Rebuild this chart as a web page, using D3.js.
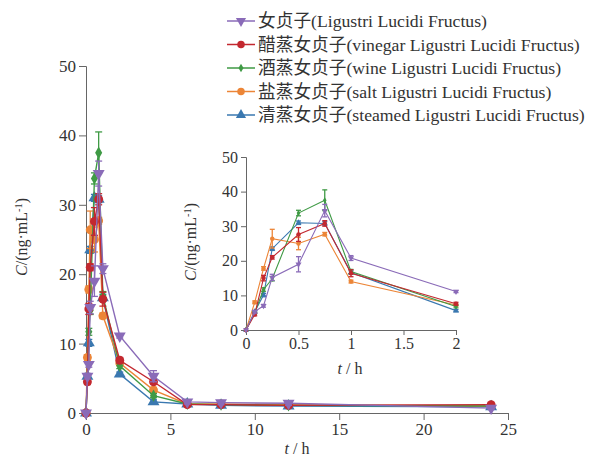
<!DOCTYPE html>
<html>
<head>
<meta charset="utf-8">
<script src="https://cdn.jsdelivr.net/npm/d3@7"></script>
<style>
  body { margin: 0; background: #fff; }
  text { font-family: "Liberation Serif", "Noto Sans CJK SC", serif; fill: #333; }
</style>
</head>
<body>
<svg id="chart" width="598" height="458"></svg>
<script>
"use strict";

// sampling times (h)
const times = [0, 0.083, 0.167, 0.25, 0.5, 0.75, 1, 2, 4, 6, 8, 12, 24];

const seriesNames = [
  "女贞子(Ligustri Lucidi Fructus)",
  "醋蒸女贞子(vinegar Ligustri Lucidi Fructus)",
  "酒蒸女贞子(wine Ligustri Lucidi Fructus)",
  "盐蒸女贞子(salt Ligustri Lucidi Fructus)",
  "清蒸女贞子(steamed Ligustri Lucidi Fructus)"
];
const seriesColors = ["#8a6bb8", "#c3282f", "#3f9a45", "#ec8537", "#3a78b0"];
const seriesMarkers = ["tri-down", "circle", "diamond", "circle", "tri-up"];

// mean concentration (ng/mL)
const rawMean    = [0, 5.3, 7.0, 15.2, 19.0, 34.5, 20.8, 11.1, 5.3, 1.6, 1.5, 1.4, 0.7];
const vinegarMean = [0, 4.5, 15.0, 21.0, 27.6, 30.8, 16.4, 7.6, 4.5, 1.2, 1.2, 1.1, 1.2];
const wineMean   = [0, 5.0, 11.7, 14.8, 33.8, 37.5, 16.9, 6.8, 2.5, 1.3, 1.2, 1.1, 1.0];
const saltMean   = [0, 8.0, 17.8, 26.4, 25.0, 27.7, 14.0, 7.2, 3.3, 1.3, 1.3, 1.2, 1.0];
const steamMean  = [0, 5.3, 10.1, 23.5, 31.0, 30.8, 16.6, 5.6, 1.6, 1.3, 1.1, 1.0, 0.9];

// standard deviations
const rawSd     = [0, 0.4, 0.4, 0.9, 2.2, 1.8, 0.7, 0.3, 0.8, 0.3, 0.3, 0.3, 0.2];
const vinegarSd = [0, 0.4, 0.8, 0.5, 2.0, 0.8, 1.0, 0.4, 0.3, 0.2, 0.2, 0.2, 0.2];
const wineSd    = [0, 0.3, 0.5, 0.6, 0.8, 3.0, 0.6, 0.4, 0.3, 0.2, 0.2, 0.2, 0.2];
const saltSd    = [0, 0.4, 0.5, 2.7, 1.8, 0.5, 0.4, 0.3, 0.4, 0.2, 0.2, 0.2, 0.2];
const steamSd   = [0, 0.3, 0.5, 0.5, 0.5, 0.5, 0.5, 0.3, 0.3, 0.2, 0.2, 0.2, 0.2];

const mainXTicks = [0, 5, 10, 15, 20, 25];
const insetXTicks = [0, 0.5, 1, 1.5, 2];
const yTicks = [0, 10, 20, 30, 40, 50];

const means = [rawMean, vinegarMean, wineMean, saltMean, steamMean];
const sds = [rawSd, vinegarSd, wineSd, saltSd, steamSd];

const series = seriesNames.map(function(name, i) {
  return {
    name: name,
    color: seriesColors[i],
    marker: seriesMarkers[i],
    points: times.map(function(t, j) { return { t: t, c: means[i][j], sd: sds[i][j] }; })
  };
});

const svg = d3.select("#chart");
const axisColor = "#666";

function markerPath(type, size) {
  const sym = {
    "circle": d3.symbolCircle,
    "diamond": d3.symbolDiamond,
    "tri-up": d3.symbolTriangle,
    "tri-down": d3.symbolTriangle
  }[type];
  return d3.symbol().type(sym).size(size)();
}

function drawPanel(opts) {
  const x = d3.scaleLinear().domain(opts.xDomain).range(opts.xRange);
  const y = d3.scaleLinear().domain([0, 50]).range(opts.yRange);
  const g = svg.append("g");

  const xAxis = g.append("g")
    .attr("transform", "translate(0," + opts.yRange[0] + ")")
    .call(d3.axisBottom(x).tickValues(opts.xTicks).tickSize(opts.tick).tickPadding(3)
      .tickFormat(d3.format("")));
  const yAxis = g.append("g")
    .attr("transform", "translate(" + opts.xRange[0] + ",0)")
    .call(d3.axisLeft(y).tickValues(yTicks).tickSize(opts.tick).tickPadding(3));
  [xAxis, yAxis].forEach(function(a) {
    a.select(".domain").attr("stroke", axisColor);
    a.selectAll(".tick line").attr("stroke", axisColor);
    a.selectAll(".tick text").style("font-size", opts.font + "px").attr("fill", "#333");
  });

  const line = d3.line().x(function(d) { return x(d.t); }).y(function(d) { return y(d.c); });

  series.slice().reverse().forEach(function(s) {
    const pts = s.points.filter(function(p) { return p.t <= opts.xDomain[1]; });
    const sg = g.append("g");
    sg.append("path").datum(pts)
      .attr("d", line).attr("fill", "none")
      .attr("stroke", s.color).attr("stroke-width", opts.lw);

    const eb = sg.selectAll(".eb").data(pts.filter(function(p) { return p.sd > 0; }))
      .enter().append("g").attr("stroke", s.color).attr("stroke-width", 1.3);
    eb.append("line")
      .attr("x1", function(d) { return x(d.t); }).attr("x2", function(d) { return x(d.t); })
      .attr("y1", function(d) { return y(d.c - d.sd); }).attr("y2", function(d) { return y(d.c + d.sd); });
    [-1, 1].forEach(function(sign) {
      eb.append("line")
        .attr("x1", function(d) { return x(d.t) - opts.cap; }).attr("x2", function(d) { return x(d.t) + opts.cap; })
        .attr("y1", function(d) { return y(d.c + sign * d.sd); }).attr("y2", function(d) { return y(d.c + sign * d.sd); });
    });

    sg.selectAll(".mk").data(pts).enter().append("path")
      .attr("d", markerPath(s.marker, s.marker === "diamond" ? opts.msize * 0.7 : opts.msize))
      .attr("transform", function(d) {
        return "translate(" + x(d.t) + "," + y(d.c) + ")" + (s.marker === "tri-down" ? " rotate(180)" : "");
      })
      .attr("fill", s.color);
  });

  // axis titles
  const yl = g.append("text")
    .attr("transform", "translate(" + opts.yLabel[0] + "," + opts.yLabel[1] + ") rotate(-90)")
    .attr("text-anchor", "middle").style("font-size", opts.labelFont + "px");
  yl.append("tspan").style("font-style", "italic").text("C");
  yl.append("tspan").text("/(ng·mL");
  yl.append("tspan").attr("baseline-shift", "super").style("font-size", (opts.labelFont * 0.65) + "px").text("-1");
  yl.append("tspan").text(")");

  const xl = g.append("text")
    .attr("x", opts.xLabel[0]).attr("y", opts.xLabel[1])
    .attr("text-anchor", "middle").style("font-size", opts.labelFont + "px");
  xl.append("tspan").style("font-style", "italic").text("t");
  xl.append("tspan").text(" / h");
}

drawPanel({
  xDomain: [0, 25], xRange: [86, 508], yRange: [413, 66],
  xTicks: mainXTicks, tick: 7, font: 17, labelFont: 16,
  cap: 3.5, msize: 62, lw: 1.4,
  yLabel: [27, 237], xLabel: [297, 454]
});

drawPanel({
  xDomain: [0, 2], xRange: [246, 456], yRange: [330, 157],
  xTicks: insetXTicks, tick: 5, font: 16, labelFont: 16,
  cap: 2.5, msize: 16, lw: 1.1,
  yLabel: [196, 242], xLabel: [350, 374]
});

// legend
const legend = svg.append("g").attr("transform", "translate(227,21)");
const rowH = 23.5;
series.forEach(function(s, i) {
  const r = legend.append("g").attr("transform", "translate(0," + (i * rowH) + ")");
  r.append("line").attr("x1", 0).attr("x2", 28).attr("y1", 0).attr("y2", 0)
    .attr("stroke", s.color).attr("stroke-width", 1.5);
  r.append("path")
    .attr("d", markerPath(s.marker, s.marker === "diamond" ? 22 : 45))
    .attr("transform", "translate(14,0)" + (s.marker === "tri-down" ? " rotate(180)" : ""))
    .attr("fill", s.color);
  r.append("text").attr("x", 31).attr("y", 6)
    .style("font-size", "17.7px").text(s.name);
});
</script>
</body>
</html>
